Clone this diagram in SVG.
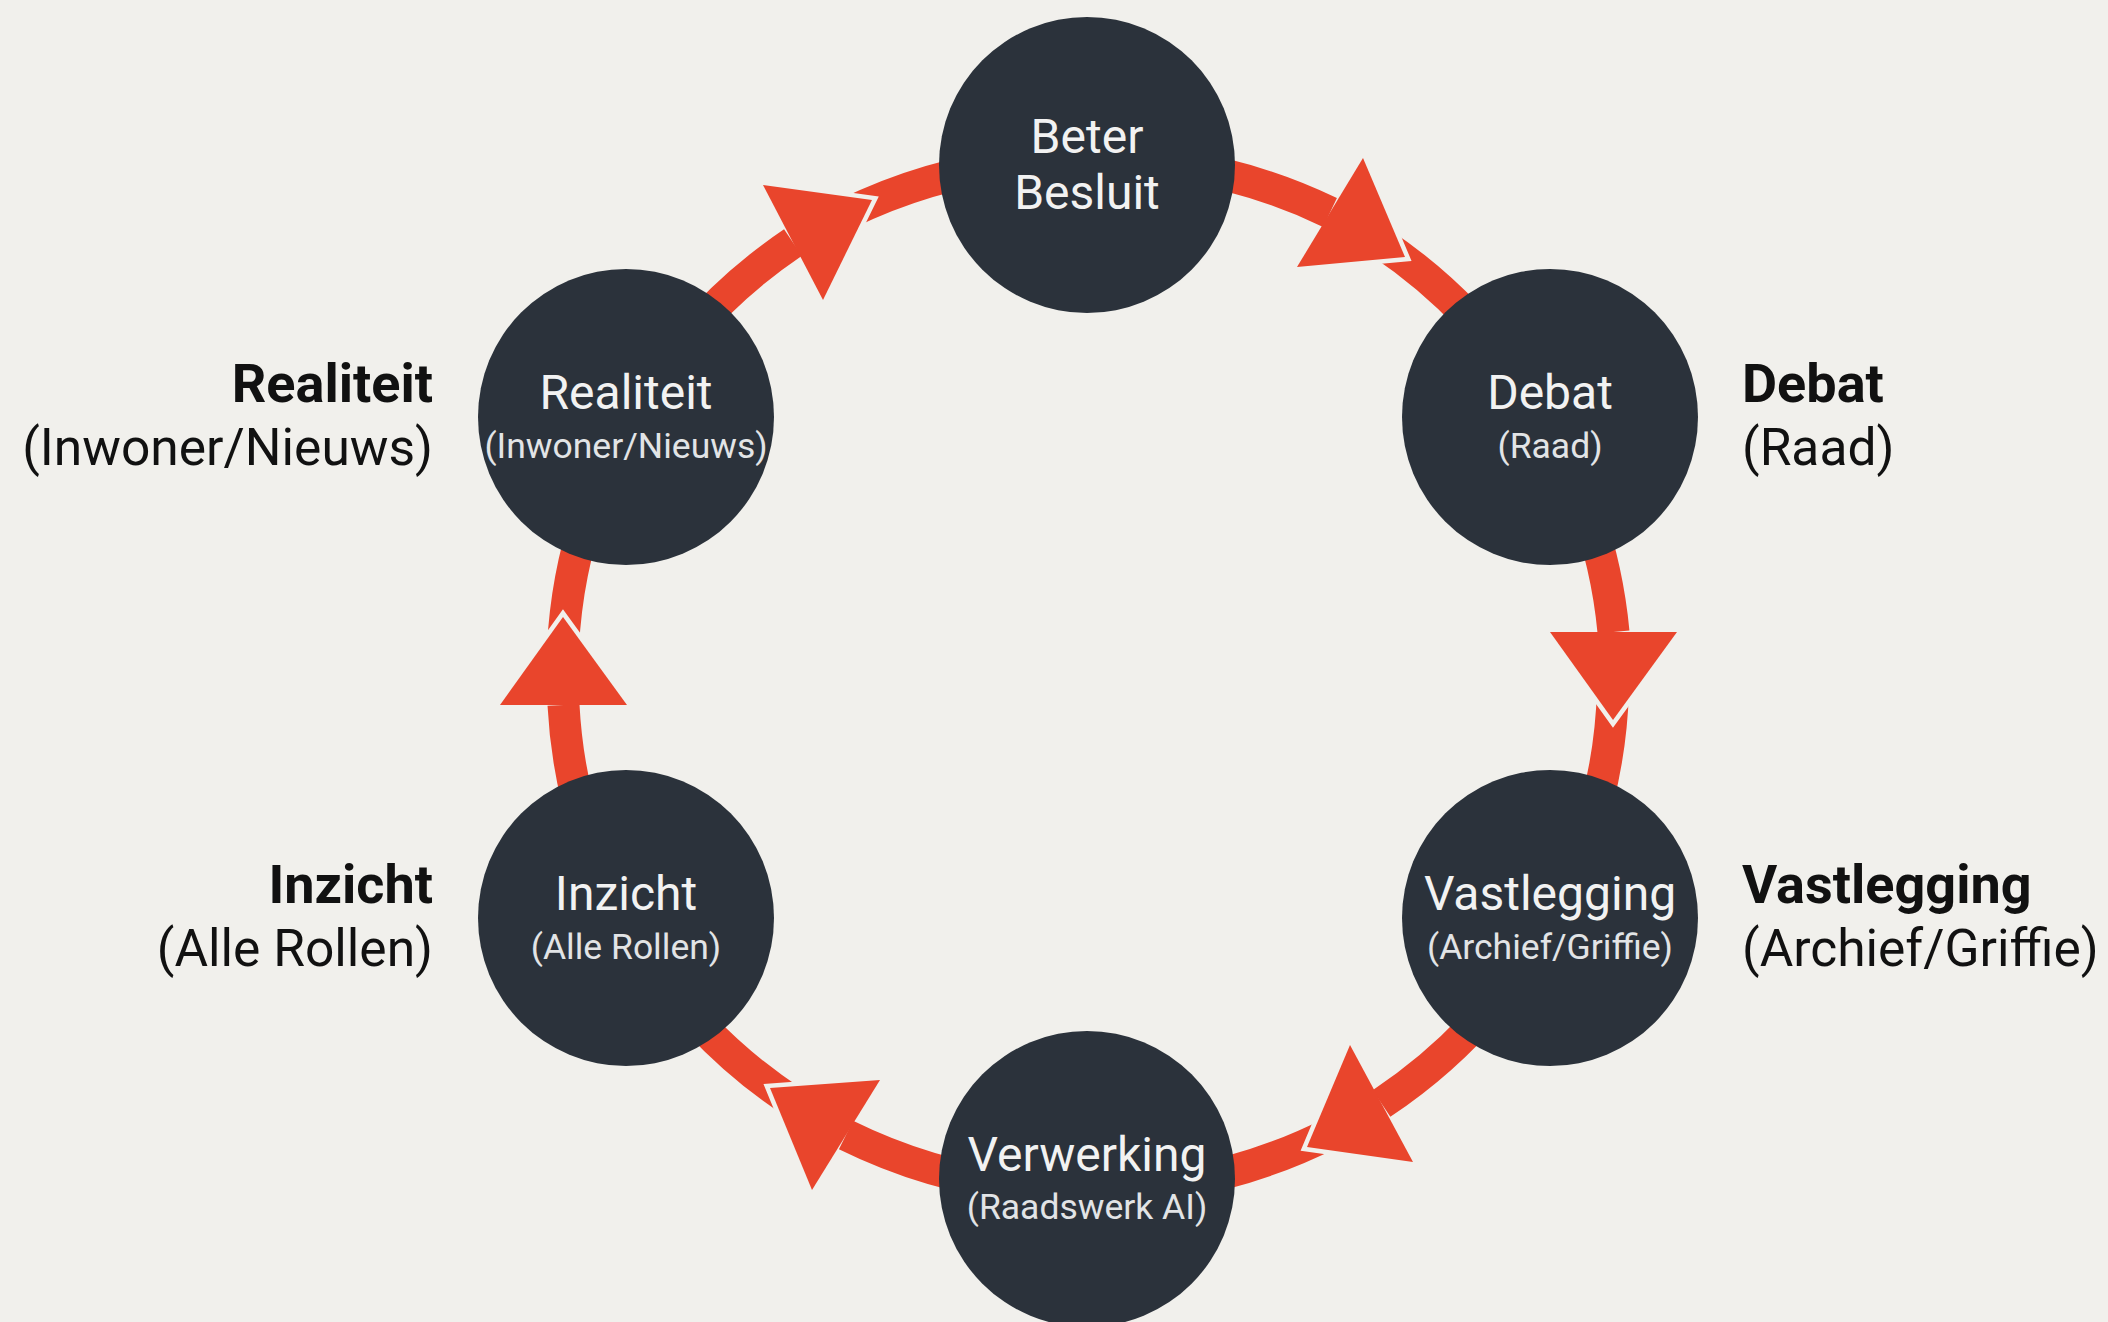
<svg xmlns="http://www.w3.org/2000/svg" width="2108" height="1322" viewBox="0 0 2108 1322">
<style>
.bg{fill:#f1f0ec}
.seg{fill:none;stroke:#e9452c;stroke-width:32;stroke-linecap:butt}
.halo{fill:#f1f0ec;stroke:#f1f0ec;stroke-width:9;stroke-linejoin:miter;stroke-miterlimit:10}
.head{fill:#e9452c}
.node{fill:#2b323b}
.main{font-family:Roboto,"Liberation Sans",sans-serif;font-size:48px;fill:#f2f2f2;text-anchor:middle}
.sub{font-family:Roboto,"Liberation Sans",sans-serif;font-size:35.5px;fill:#e2e4e6;text-anchor:middle}
.lb{font-family:Roboto,"Liberation Sans",sans-serif;font-size:54px;font-weight:bold;fill:#111}
.lr{font-family:Roboto,"Liberation Sans",sans-serif;font-size:51.5px;fill:#111}
.end{text-anchor:end}
</style>
<rect class="bg" x="0" y="0" width="2108" height="1322"/>
<g id="connectors">
  <path class="seg" d="M845.6 214.2 A526 515 0 0 1 1087 160"/>
  <path class="seg" d="M1379.2 241.7 A526 515 0 0 1 1543 418"/>
  <path class="seg" d="M1613 690 A526 515 0 0 1 1551 918"/>
  <path class="seg" d="M1332.9 1131.9 A526 515 0 0 1 1087 1190"/>
  <path class="seg" d="M795.5 1103.8 A526 515 0 0 1 623 918"/>
  <path class="seg" d="M563 647 A526 515 0 0 1 631 418"/>
  <polygon class="halo" points="763,185 872,200 823,300"/>
  <polygon class="halo" points="1363,158 1405,257 1297,267"/>
  <polygon class="halo" points="1677,632 1613,720 1550,632"/>
  <polygon class="halo" points="1413,1162 1307,1147 1350,1045"/>
  <polygon class="halo" points="812,1190 770,1088 880,1080"/>
  <polygon class="halo" points="500,705 563,617 627,705"/>
  <path class="seg" d="M631 418 A526 515 0 0 1 793 242.5"/>
  <path class="seg" d="M1087 160 A526 515 0 0 1 1330 212.5"/>
  <path class="seg" d="M1543 418 A526 515 0 0 1 1613.5 632"/>
  <path class="seg" d="M1551 918 A526 515 0 0 1 1381.5 1103.5"/>
  <path class="seg" d="M1087 1190 A526 515 0 0 1 846 1135"/>
  <path class="seg" d="M623 918 A526 515 0 0 1 563.5 705"/>
  <polygon class="head" points="763,185 872,200 823,300"/>
  <polygon class="head" points="1363,158 1405,257 1297,267"/>
  <polygon class="head" points="1677,632 1613,720 1550,632"/>
  <polygon class="head" points="1413,1162 1307,1147 1350,1045"/>
  <polygon class="head" points="812,1190 770,1088 880,1080"/>
  <polygon class="head" points="500,705 563,617 627,705"/>
</g>
<g id="node-beter-besluit">
  <circle class="node" cx="1087" cy="165" r="148"/>
  <text class="main" x="1087" y="153">Beter</text>
  <text class="main" x="1087" y="209">Besluit</text>
</g>
<g id="node-debat">
  <circle class="node" cx="1550" cy="417" r="148"/>
  <text class="main" x="1550" y="409">Debat</text>
  <text class="sub" x="1550" y="458">(Raad)</text>
  <text class="lb" x="1742" y="402">Debat</text>
  <text class="lr" x="1742" y="465">(Raad)</text>
</g>
<g id="node-vastlegging">
  <circle class="node" cx="1550" cy="918" r="148"/>
  <text class="main" x="1550" y="910">Vastlegging</text>
  <text class="sub" x="1550" y="959">(Archief/Griffie)</text>
  <text class="lb" x="1742" y="903">Vastlegging</text>
  <text class="lr" x="1742" y="966">(Archief/Griffie)</text>
</g>
<g id="node-verwerking">
  <circle class="node" cx="1087" cy="1179" r="148"/>
  <text class="main" x="1087" y="1171">Verwerking</text>
  <text class="sub" x="1087" y="1219">(Raadswerk AI)</text>
</g>
<g id="node-inzicht">
  <circle class="node" cx="626" cy="918" r="148"/>
  <text class="main" x="626" y="910">Inzicht</text>
  <text class="sub" x="626" y="959">(Alle Rollen)</text>
  <text class="lb end" x="433" y="903">Inzicht</text>
  <text class="lr end" x="433" y="966">(Alle Rollen)</text>
</g>
<g id="node-realiteit">
  <circle class="node" cx="626" cy="417" r="148"/>
  <text class="main" x="626" y="409">Realiteit</text>
  <text class="sub" x="626" y="458">(Inwoner/Nieuws)</text>
  <text class="lb end" x="433" y="402">Realiteit</text>
  <text class="lr end" x="433" y="465">(Inwoner/Nieuws)</text>
</g>
</svg>
